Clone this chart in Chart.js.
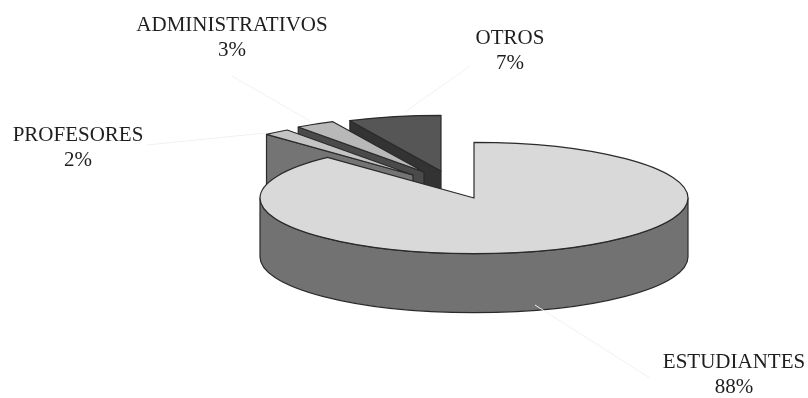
<!DOCTYPE html>
<html>
<head>
<meta charset="utf-8">
<title>Distribución</title>
<script src="https://cdn.jsdelivr.net/npm/chart.js@4"></script>
<style>
    html, body { margin: 0; padding: 0; background: #fff; }
    canvas { display: block; }
</style>
</head>
<body>
<canvas id="grafico" width="808" height="398"></canvas>
<script>
const categorias = ['ESTUDIANTES', 'PROFESORES', 'ADMINISTRATIVOS', 'OTROS'];
const porcentajes = [88, 2, 3, 7];

const coloresCara = ['#d9d9d9', '#c4c4c4', '#b8b8b8', '#565656'];
const coloresPared = ['#727272', '#747474', '#4a4a4a', '#333333'];

// desplazamiento de cada porcion separada, en pixeles de pantalla
const separacion = [[0, 0], [-61, -23], [-50, -26], [-33, -27]];
// posicion de cada rotulo y de su linea guia
const rotulos = [
    { x: 734, y: 369, guia: [535, 305, 650, 378] },
    { x: 78, y: 142, guia: [147, 145, 265, 133] },
    { x: 232, y: 32, guia: [232, 76, 310, 121] },
    { x: 510, y: 45, guia: [405, 112, 470, 66] },
];

const APLASTADO = 0.26;
const PROFUNDIDAD = 59;

function paredExterior(ctx, cx, cy, rx, ry, inicio, fin) {
    const a = Math.max(inicio, 0);
    const b = Math.min(fin, Math.PI);
    if (a >= b) return;
    ctx.beginPath();
    ctx.ellipse(cx, cy, rx, ry, 0, a, b);
    ctx.ellipse(cx, cy + PROFUNDIDAD, rx, ry, 0, b, a, true);
    ctx.closePath();
    ctx.fill();
    ctx.stroke();
}

const pastel3d = {
    id: 'pastel3d',
    beforeDatasetsDraw(chart) {
        const ctx = chart.ctx;
        const arcos = chart.getDatasetMeta(0).data;
        ctx.save();
        ctx.lineWidth = 1.2;
        ctx.lineJoin = 'round';
        ctx.strokeStyle = '#2a2a2a';
        for (let i = arcos.length - 1; i >= 0; i--) {
            const arco = arcos[i];
            const cx = arco.x + separacion[i][0];
            const cy = arco.y + separacion[i][1];
            const rx = arco.outerRadius;
            const ry = rx * APLASTADO;
            const esqX = cx + rx * Math.cos(arco.startAngle);
            const esqY = cy + ry * Math.sin(arco.startAngle);

            ctx.fillStyle = coloresPared[i];
            paredExterior(ctx, cx, cy, rx, ry, arco.startAngle, arco.endAngle);

            // cara del corte que mira hacia el frente
            if (i > 0) {
                ctx.beginPath();
                ctx.moveTo(esqX, esqY);
                ctx.lineTo(cx, cy);
                ctx.lineTo(cx, cy + PROFUNDIDAD);
                ctx.lineTo(esqX, esqY + PROFUNDIDAD);
                ctx.closePath();
                ctx.fill();
                ctx.stroke();
            }

            ctx.fillStyle = coloresCara[i];
            ctx.beginPath();
            ctx.moveTo(cx, cy);
            ctx.ellipse(cx, cy, rx, ry, 0, arco.startAngle, arco.endAngle);
            ctx.closePath();
            ctx.fill();
            ctx.stroke();
        }
        ctx.restore();
        return false;
    },
    afterDraw(chart) {
        const ctx = chart.ctx;
        ctx.save();
        ctx.strokeStyle = '#f1f1f1';
        ctx.lineWidth = 1;
        ctx.fillStyle = '#1e1e1e';
        ctx.font = '21px "Liberation Serif"';
        ctx.textAlign = 'center';
        ctx.textBaseline = 'middle';
        categorias.forEach((nombre, i) => {
            const r = rotulos[i];
            ctx.beginPath();
            ctx.moveTo(r.guia[0], r.guia[1]);
            ctx.lineTo(r.guia[2], r.guia[3]);
            ctx.stroke();
            ctx.fillText(nombre, r.x, r.y - 7);
            ctx.fillText(porcentajes[i] + '%', r.x, r.y + 18);
        });
        ctx.restore();
    },
};

new Chart(document.getElementById('grafico'), {
    type: 'pie',
    data: {
        labels: categorias,
        datasets: [
            {
                data: porcentajes,
                backgroundColor: coloresCara,
                radius: 214,
            },
        ],
    },
    options: {
        responsive: false,
        animation: false,
        layout: { padding: { left: 140, bottom: 2 } },
        plugins: {
            legend: { display: false },
            tooltip: { enabled: false },
        },
    },
    plugins: [pastel3d],
});
</script>
</body>
</html>
